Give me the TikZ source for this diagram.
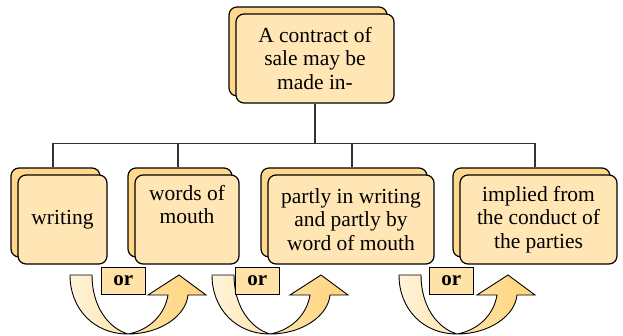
\documentclass[tikz,border=0pt]{standalone}
\usepackage{fontspec}
\setmainfont{Liberation Serif}
\usetikzlibrary{positioning,shadows,calc}
\definecolor{cardfront}{RGB}{255,230,180}
\definecolor{cardback}{RGB}{255,216,140}
\definecolor{orfill}{RGB}{255,226,168}
\definecolor{turnlight}{RGB}{255,243,218}
\definecolor{turndark}{RGB}{255,210,118}
\definecolor{linkgray}{RGB}{51,51,51}

\begin{document}
\begin{tikzpicture}[
			x=1pt,y=-1pt,
			card/.style={
				draw=black,
				fill=cardfront,
				line width=1.2pt,
				rounded corners=8pt,
				align=center,
				inner sep=0pt,
				minimum height=89pt,
				font=\fontsize{21.5}{23.5}\selectfont,
				copy shadow={shadow xshift=-7pt,shadow yshift=7pt,fill=cardback,draw=black,line width=1.2pt}
			},
			orbox/.style={
				draw=black,
				fill=orfill,
				line width=1.2pt,
				minimum width=44pt,
				minimum height=27pt,
				inner sep=0pt,
				font=\fontsize{21}{22}\selectfont\bfseries
			},
			link/.style={
				draw=linkgray,
				line width=1.3pt
			},
			swaparrow/.pic={
				\draw[line width=0.9pt,left color=turnlight,right color=turndark]
					(-58,-59) .. controls (-58,-25) and (-34,0) .. (0,0)
					.. controls (32,0) and (58,-18) .. (60,-39)
					-- (78,-39) -- (51,-59) -- (20,-39) -- (40,-39)
					.. controls (37,-20) and (22,-4) .. (0,0)
					.. controls (-20,-6) and (-36,-28) .. (-36,-59) -- cycle;
			}
			]
			\useasboundingbox (0,0) rectangle (623,335);

			\node[card,minimum width=158pt] (root) at (315,58.5) {A contract of\\sale may be\\made in-};

			\node[card,minimum width=89pt] (m1) at (62.5,219.5) {writing};
			\node[card,minimum width=104pt] (m2) at (187,219.5) {words of\\mouth\\\strut};
			\node[card,minimum width=166pt] (m3) at (351,219.5) {partly in writing\\and partly by\\word of mouth};
			\node[card,minimum width=157pt] (m4) at (538.5,219.5) {implied from\\the conduct of\\the parties};

			\draw[link] (root.south) -- ++(0,40) coordinate (bus);
			\foreach \m/\dx in {m1/-9.5,m2/-9,m3/1,m4/-3.5}
				\draw[link] ($(\m.north)+(\dx,-7)$) |- (bus);

			\pic at (128,334) {swaparrow};
			\pic at (270,334) {swaparrow};
			\pic at (457,334) {swaparrow};

			\node[orbox,below right=2pt and -7pt of m1.south east] (or1) {or};
			\node[orbox,below right=2pt and -5pt of m2.south east] (or2) {or};
			\node[orbox,below right=2pt and -6pt of m3.south east] (or3) {or};
		\end{tikzpicture}
\end{document}
